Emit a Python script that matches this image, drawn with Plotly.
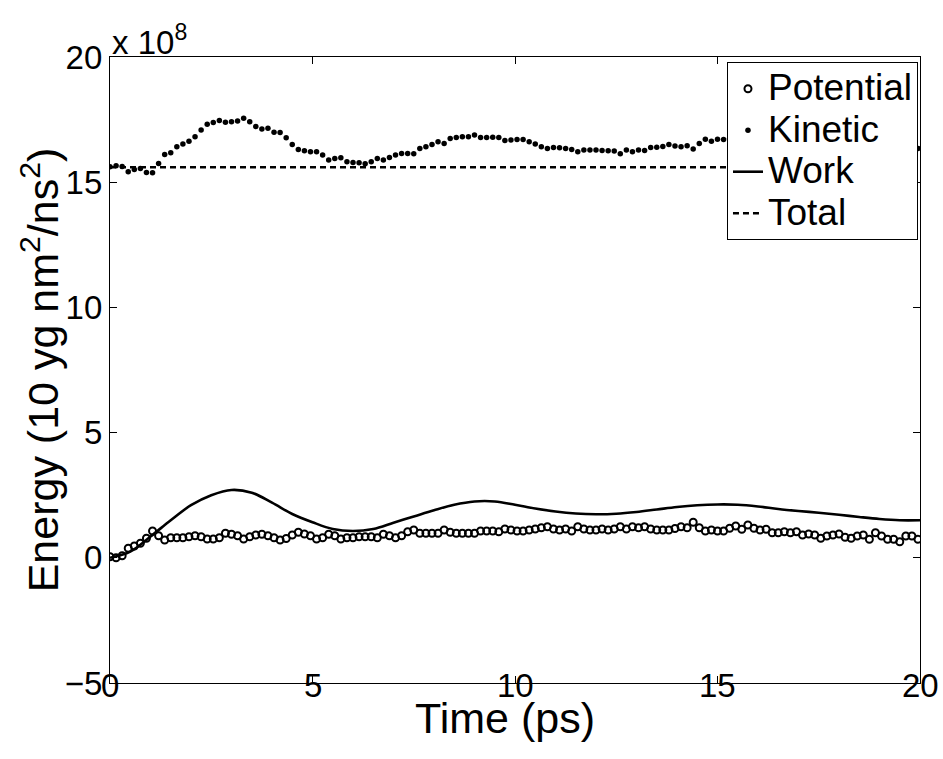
import numpy as np
import plotly.graph_objects as go

# sample times (ps)
n_samples = 134
time_ps = np.round(np.arange(n_samples) * 0.15, 2)

kinetic = [
    15.62, 15.66, 15.63, 15.42, 15.51, 15.55, 15.39, 15.38, 15.75, 16.11,
    16.18, 16.42, 16.53, 16.64, 16.82, 17.08, 17.31, 17.38, 17.46, 17.39,
    17.41, 17.44, 17.55, 17.41, 17.22, 17.12, 17.15, 16.99, 16.98, 16.78,
    16.51, 16.31, 16.26, 16.22,
    16.22, 16.09, 15.89, 15.95, 15.98, 15.82, 15.79, 15.78, 15.74, 15.82,
    15.95, 15.89, 15.99, 16.09, 16.15, 16.15, 16.14, 16.35, 16.42, 16.51,
    16.62, 16.55, 16.75, 16.79, 16.82, 16.82, 16.88, 16.79, 16.79, 16.80,
    16.79, 16.67, 16.69, 16.71,
    16.71, 16.62, 16.53, 16.42, 16.35, 16.39, 16.38, 16.35, 16.31, 16.22,
    16.29, 16.29, 16.29, 16.27, 16.26, 16.25, 16.14, 16.29, 16.22, 16.29,
    16.27, 16.39, 16.40, 16.43, 16.51, 16.45, 16.42, 16.46, 16.33, 16.55,
    16.72, 16.64, 16.72, 16.71,
    16.75, 16.70, 16.72, 16.68, 16.65, 16.60, 16.62, 16.58, 16.55, 16.57,
    16.52, 16.50, 16.53, 16.48, 16.45, 16.47, 16.42, 16.40, 16.43, 16.38,
    16.40, 16.35, 16.38, 16.33, 16.36, 16.30, 16.34, 16.32, 16.36, 16.33,
    16.30, 16.35,
]

potential = [
    0.04, 0.00, 0.08, 0.38, 0.47, 0.58, 0.78, 1.07, 0.88, 0.71,
    0.80, 0.80, 0.80, 0.84, 0.88, 0.84, 0.75, 0.75, 0.80, 0.98,
    0.94, 0.88, 0.75, 0.84, 0.91, 0.94, 0.88, 0.80, 0.71, 0.77,
    0.91, 1.02, 0.95, 0.88,
    0.75, 0.80, 0.94, 0.88, 0.75, 0.80, 0.80, 0.84, 0.84, 0.84,
    0.80, 0.94, 0.88, 0.80, 0.88, 1.04, 1.11, 0.98, 0.98, 0.98,
    0.98, 1.11, 1.02, 0.98, 0.98, 0.98, 0.98, 1.07, 1.07, 1.07,
    1.04, 1.15, 1.11, 1.07,
    1.07, 1.11, 1.15, 1.20, 1.24, 1.15, 1.11, 1.15, 1.07, 1.24,
    1.15, 1.11, 1.11, 1.15, 1.11, 1.15, 1.24, 1.15, 1.24, 1.20,
    1.24, 1.15, 1.11, 1.11, 1.11, 1.17, 1.24, 1.20, 1.42, 1.20,
    1.07, 1.11, 1.07, 1.07,
    1.18, 1.27, 1.14, 1.31, 1.18, 1.11, 1.14, 1.00, 1.00, 1.04,
    1.00, 1.04, 0.91, 0.95, 0.91, 0.78, 0.87, 0.91, 0.95, 0.82,
    0.78, 0.87, 0.91, 0.74, 1.00, 0.87, 0.74, 0.74, 0.64, 0.87,
    0.87, 0.74,
]

work_time = [0.0, 0.5, 1.0, 1.5, 2.0, 2.5, 3.0, 3.5, 4.0, 4.5,
             5.0, 5.5, 6.0, 6.5, 7.0, 7.5, 8.0, 8.5, 9.0, 9.5,
             10.0, 10.5, 11.0, 11.5, 12.0, 12.5, 13.0, 13.5, 14.0, 14.5,
             15.0, 15.5, 16.0, 16.5, 17.0, 17.5, 18.0, 18.5, 19.0, 19.5, 20.0]
work = [0.0, 0.25, 0.85, 1.5, 2.1, 2.5, 2.71, 2.6, 2.2, 1.75,
        1.42, 1.15, 1.07, 1.15, 1.4, 1.65, 1.9, 2.12, 2.25, 2.25,
        2.12, 1.97, 1.85, 1.77, 1.74, 1.76, 1.83, 1.93, 2.03, 2.1,
        2.13, 2.12, 2.05, 1.95, 1.87, 1.8, 1.72, 1.63, 1.55, 1.5, 1.5]

total_time = [0.0, 20.0]
total = [15.6, 15.6]

x_ticks = [0, 5, 10, 15, 20]
x_tick_labels = ["0", "5", "10", "15", "20"]
y_ticks = [-5, 0, 5, 10, 15, 20]

series_names = ["Potential", "Kinetic", "Work", "Total"]

FONT = "Liberation Sans, Arial, Helvetica, sans-serif"
FS_TICK = 33
FS_LABEL = 43
FS_LEG_BASE = 29.6
FS_LEG = 37


def leg(name):
    return '<span style="font-size:%dpx">%s</span>' % (FS_LEG, name)


fig = go.Figure()
fig.add_trace(go.Scatter(
    x=time_ps, y=potential, mode="markers", name=leg(series_names[0]),
    marker=dict(symbol="circle-open", size=7, color="black",
                line=dict(width=2, color="black"))))
fig.add_trace(go.Scatter(
    x=time_ps, y=kinetic, mode="markers", name=leg(series_names[1]),
    marker=dict(symbol="circle", size=5.5, color="black")))
fig.add_trace(go.Scatter(
    x=work_time, y=work, mode="lines", name=leg(series_names[2]),
    line=dict(color="black", width=2.6, shape="spline")))
fig.add_trace(go.Scatter(
    x=total_time, y=total, mode="lines", name=leg(series_names[3]),
    line=dict(color="black", width=2.4, dash="6px,4px")))

axis_common = dict(
    showgrid=False, zeroline=False, showline=True, linecolor="black",
    linewidth=1.2, mirror="ticks", ticks="inside", ticklen=7,
    tickcolor="black", tickwidth=1, automargin=False,
    tickfont=dict(family=FONT, size=FS_TICK, color="black"),
)
fig.update_xaxes(range=[0, 20], tickvals=x_ticks, showticklabels=False,
                 **axis_common)
fig.update_yaxes(range=[-5, 20], tickvals=y_ticks, **axis_common)

annotations = [
    dict(text=lab, xref="x", yref="paper", x=xv, y=-0.004,
         xanchor="center", yanchor="middle", showarrow=False,
         font=dict(family=FONT, size=FS_TICK, color="black"))
    for xv, lab in zip(x_ticks, x_tick_labels)
]
annotations += [
    dict(text="Time (ps)", xref="paper", yref="paper", x=0.488, y=-0.056,
         xanchor="center", yanchor="middle", showarrow=False,
         font=dict(family=FONT, size=FS_LABEL, color="black")),
    dict(text="Energy (10 yg nm<sup>2</sup>/ns<sup>2</sup>)", xref="paper",
         yref="paper", x=-0.086, y=0.5, xanchor="center", yanchor="middle",
         textangle=-90, showarrow=False,
         font=dict(family=FONT, size=FS_LABEL, color="black")),
    dict(text="x 10<sup>8</sup>", xref="paper", yref="paper", x=0, y=1,
         xanchor="left", yanchor="bottom", showarrow=False, yshift=-6,
         font=dict(family=FONT, size=FS_TICK, color="black")),
]

fig.update_layout(
    width=943, height=759,
    margin=dict(l=110, r=23, t=57, b=76),
    paper_bgcolor="white", plot_bgcolor="white",
    font=dict(family=FONT, size=FS_TICK, color="black"),
    showlegend=True,
    legend=dict(x=0.7617, y=0.992, xanchor="left", yanchor="top",
                bgcolor="white", bordercolor="black", borderwidth=1,
                font=dict(family=FONT, size=FS_LEG_BASE, color="black"),
                itemwidth=30, tracegroupgap=0),
    annotations=annotations,
)

fig.write_html("out.html")
